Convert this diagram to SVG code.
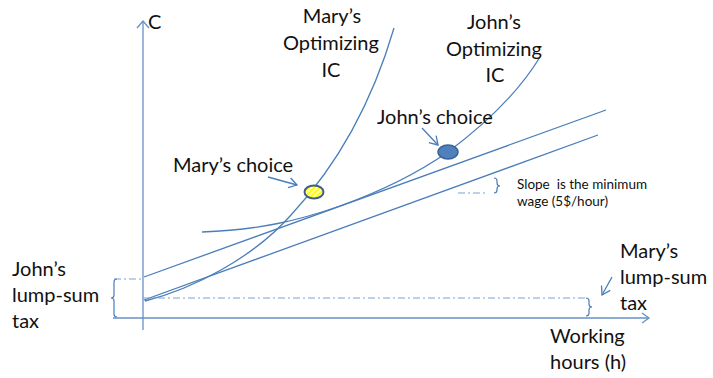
<svg xmlns="http://www.w3.org/2000/svg" width="713" height="378" viewBox="0 0 713 378">
<style>
.ln{fill:none;stroke:#4a7ebb;stroke-width:1.3}
.ax{fill:none;stroke:#6690c8;stroke-width:1.3}
.dd{fill:none;stroke:#7fa0d2;stroke-width:1.2;stroke-dasharray:7 3 2 3}
.br{fill:none;stroke:#4a7ebb;stroke-width:1.2}
.t{font-family:Lato,"Open Sans",sans-serif;font-size:20px;fill:#111}
.s{font-family:Lato,"Open Sans",sans-serif;font-size:13.5px;fill:#111}
</style>
<defs>
<marker id="oa" markerWidth="12" markerHeight="12" refX="10" refY="6" orient="auto" markerUnits="userSpaceOnUse">
<path d="M2,1 L10,6 L2,11" fill="none" stroke="#4a7ebb" stroke-width="1.3"/>
</marker>
<pattern id="hatch" width="4" height="4" patternUnits="userSpaceOnUse" patternTransform="rotate(45)">
<rect width="4" height="4" fill="#ffff00"/>
<rect width="1.5" height="4" fill="#ffffff"/>
</pattern>
</defs>
<g id="axes">
<line class="ax" x1="143" y1="330" x2="143" y2="21"/>
<path class="ax" d="M137,28 L143,21 L149,28"/>
<line class="ax" x1="113" y1="318" x2="649" y2="318"/>
<path class="ax" d="M642,313 L649,318 L642,323"/>
<text class="t" x="148" y="29">C</text>
<text class="t" x="550" y="343">Working</text>
<text class="t" x="550" y="369">hours (h)</text>
</g>
<g id="connectors">
<line id="budget-upper" class="ln" x1="144" y1="277" x2="606" y2="110"/>
<line id="budget-lower" class="ln" x1="144" y1="300" x2="598" y2="135"/>
<path id="mary-ic" class="ln" d="M145,301 C192,289 252,259 291,215 C331,172 370,110 394,28"/>
<path id="john-ic" class="ln" d="M202,232 C260,230 300,220 340,206 C390,188 425,168 448,152 C480,128 517,95 540,57"/>
<line class="dd" x1="143" y1="298" x2="587" y2="298"/>
<line class="dd" x1="114" y1="279" x2="143" y2="279"/>
<line class="dd" x1="458" y1="193" x2="486" y2="193"/>
<path class="br" d="M117,279 Q114,279 114,282 L114,295 Q114,298 111,298 Q114,298 114,301 L114,314 Q114,317 117,317"/>
<path class="br" d="M586,298 Q589,298 589,301 L589,304 Q589,307 592,307 Q589,307 589,310 L589,313 Q589,316 586,316"/>
<path class="br" d="M494,178 Q497,178 497,181 L497,183 Q497,186 500,186 Q497,186 497,189 L497,190 Q497,193 494,193"/>
<line class="ln" x1="268" y1="177" x2="297" y2="185" marker-end="url(#oa)"/>
<line class="ln" x1="422" y1="128" x2="438" y2="145" marker-end="url(#oa)"/>
<line class="ln" x1="612" y1="277" x2="602" y2="295" marker-end="url(#oa)"/>
</g>
<g id="mary-choice">
<ellipse cx="314" cy="192" rx="9.5" ry="6.5" fill="url(#hatch)" stroke="#3e5f86" stroke-width="2"/>
<text class="t" x="173" y="172">Mary’s choice</text>
</g>
<g id="john-choice">
<ellipse cx="448" cy="152" rx="10" ry="7" fill="#4f81bd" stroke="#3a6398" stroke-width="1.5"/>
<text class="t" x="377" y="124">John’s choice</text>
</g>
<g id="mary-ic-label">
<text class="t" text-anchor="middle" x="332" y="23">Mary’s</text>
<text class="t" text-anchor="middle" x="331" y="50">Optimizing</text>
<text class="t" text-anchor="middle" x="331" y="77">IC</text>
</g>
<g id="john-ic-label">
<text class="t" text-anchor="middle" x="494" y="29">John’s</text>
<text class="t" text-anchor="middle" x="494" y="56">Optimizing</text>
<text class="t" text-anchor="middle" x="495" y="82">IC</text>
</g>
<g id="slope-label">
<text class="s" x="517" y="189" xml:space="preserve">Slope  is the minimum</text>
<text class="s" x="517" y="206">wage (5$/hour)</text>
</g>
<g id="john-tax">
<text class="t" x="12" y="276">John’s</text>
<text class="t" x="12" y="302">lump-sum</text>
<text class="t" x="12" y="328">tax</text>
</g>
<g id="mary-tax">
<text class="t" x="620" y="258">Mary’s</text>
<text class="t" x="620" y="284">lump-sum</text>
<text class="t" x="620" y="310">tax</text>
</g>
</svg>
